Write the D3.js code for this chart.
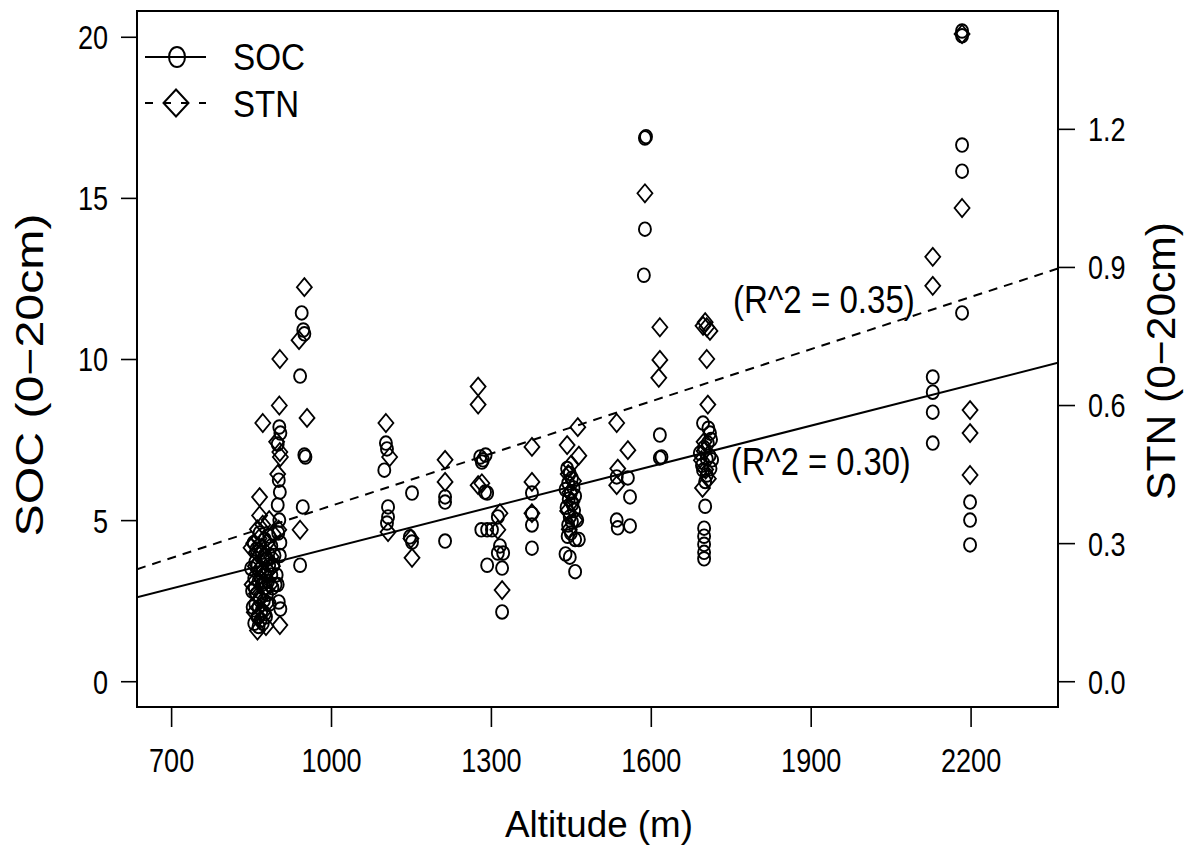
<!DOCTYPE html>
<html><head><meta charset="utf-8">
<script src="https://cdn.jsdelivr.net/npm/d3@7"></script>
<style>
body{margin:0;background:#fff}
text{font-family:"Liberation Sans",Arial,sans-serif;fill:#000}
</style>
</head><body>
<svg id="chart" width="1191" height="855"></svg>
<script>
// ---------- data ----------
const xTicks = [700, 1000, 1300, 1600, 1900, 2200];
const socTicks = [0, 5, 10, 15, 20];
const stnTicks = [0.0, 0.3, 0.6, 0.9, 1.2];
const seriesNames = ["SOC", "STN"];
const xLimits = [700, 2300];
const socLimits = [0, 20];
const stnLimits = [0, 1.4];
// linear fits: [intercept, slope]
const fitSOC = [-0.07, 0.00421];
const fitSTN = [0.003, 0.000378];
const r2Text = ["(R^2 = 0.30)", "(R^2 = 0.35)"];
// annotation anchors in data units: [altitude, value]
const r2SOCAnchor = [1750, 6.40];
const r2STNAnchor = [1754, 0.80];

// SOC points: [altitude (m), SOC]
const socPoints = [
  // ~850-895 m
  [855,4.3],[860,4.1],[865,4.2],[870,4.0],[875,3.9],[880,3.8],[858,3.7],[862,3.6],[868,3.5],[872,3.4],
  [878,3.3],[884,3.6],[856,3.2],[864,3.1],[870,3.0],[876,2.9],[882,3.1],[888,3.3],[852,2.8],[860,2.7],
  [866,2.6],[874,2.5],[880,2.7],[858,2.4],[864,2.3],[870,2.2],[876,2.1],[862,2.0],[868,1.9],[856,1.8],
  [864,1.7],[872,1.8],[878,2.0],[885,2.4],[890,2.9],[892,3.6],[888,4.2],[850,3.5],[853,2.3],[857,2.9],
  [884,4.5],[866,4.6],[876,4.4],[894,3.9],[896,3.0],
  // ~900 m
  [903,7.89],[905,7.70],[900,7.36],[902,6.24],[904,5.87],[900,5.47],[903,5.0],[901,4.6],[905,4.3],
  [898,3.3],[902,2.46],[905,2.24],[900,3.0],[904,3.9],
  // ~945 m
  [945,11.43],[948,10.90],[950,10.78],[942,9.47],[950,7.02],[952,6.96],[947,5.41],[942,3.60],
  // ~1100 m
  [1103,7.39],[1105,7.21],[1100,6.55],[1107,5.41],[1107,5.10],[1105,4.91],
  // ~1150 m
  [1152,5.84],[1148,4.48],[1152,4.32],
  // ~1214 m
  [1214,5.72],[1214,5.56],[1214,4.35],
  // ~1280-1320 m
  [1280,6.96],[1285,6.87],[1290,7.02],[1283,6.80],[1289,5.87],[1293,5.84],[1282,4.70],[1293,4.70],
  [1302,4.70],[1313,5.10],[1313,3.98],[1323,3.98],[1293,3.60],[1321,3.51],[1321,2.15],[1317,4.2],
  // ~1377 m
  [1377,5.84],[1377,4.85],[1377,4.13],[1377,5.2],
  // ~1440-1465 m
  [1443,6.6],[1448,6.45],[1452,6.3],[1445,6.15],[1455,6.0],[1440,5.95],[1450,5.85],[1458,5.75],
  [1446,5.65],[1453,5.5],[1442,5.4],[1456,5.3],[1448,5.1],[1452,4.95],[1445,4.85],[1450,4.6],
  [1458,4.4],[1444,4.5],[1448,3.85],[1440,3.95],[1465,4.4],[1458,3.4],[1462,5.0],
  // ~1536-1561 m
  [1536,6.34],[1557,6.31],[1561,5.72],[1536,5.0],[1538,4.76],[1561,4.82],
  // ~1589 m
  [1589,16.86],[1591,16.9],[1589,14.03],[1587,12.60],
  // ~1617 m
  [1617,7.64],[1617,6.93],[1620,6.96],
  // ~1692-1715 m
  [1698,8.01],[1711,7.70],[1707,7.39],[1692,7.08],[1715,6.87],[1698,6.55],[1702,6.20],[1708,7.85],
  [1713,7.5],[1700,7.25],[1705,6.9],[1696,6.7],[1710,7.0],[1702,5.43],[1700,4.75],[1700,4.5],
  [1700,4.25],[1700,4.0],[1700,3.8],[1705,6.4],[1712,6.6],
  // ~2129 m
  [2129,9.44],[2129,8.97],[2129,8.35],[2129,7.39],
  // ~2184 m
  [2184,20.18],[2184,20.03],[2184,16.64],[2184,15.83],[2184,11.43],
  // ~2199 m
  [2199,5.56],[2199,5.0],[2199,4.23]
];

// STN points: [altitude (m), STN]
const stnPoints = [
  // ~850-895 m
  [855,0.30],[860,0.28],[865,0.31],[870,0.29],[875,0.27],[880,0.30],[858,0.25],[864,0.24],[870,0.22],
  [876,0.26],[882,0.24],[852,0.21],[860,0.19],[868,0.18],[874,0.20],[880,0.17],[886,0.21],[856,0.15],
  [864,0.14],[872,0.15],[888,0.27],[892,0.32],[862,0.33],[872,0.34],[850,0.29],[884,0.35],[866,0.36],
  [890,0.25],[878,0.12],[862,0.11],
  // ~900 m
  [904,0.700],[903,0.599],[872,0.561],[904,0.498],[905,0.487],[866,0.400],[904,0.122],[902,0.329],
  [900,0.45],[898,0.52],
  // ~945 m
  [950,0.856],[940,0.741],[955,0.572],[942,0.329],
  // ~1100 m
  [1103,0.561],[1110,0.487],[1107,0.324],
  // ~1150 m
  [1150,0.310],[1152,0.268],
  // ~1214 m
  [1214,0.481],[1214,0.433],
  // ~1280-1320 m
  [1276,0.640],[1276,0.601],[1276,0.426],[1317,0.365],[1313,0.329],[1321,0.198],[1283,0.43],
  // ~1377 m
  [1377,0.509],[1377,0.433],[1377,0.365],
  // ~1440-1465 m
  [1463,0.552],[1443,0.513],[1465,0.490],[1450,0.470],[1445,0.450],[1455,0.435],[1448,0.410],
  [1452,0.390],[1444,0.370],[1458,0.350],[1447,0.330],
  // ~1536-1561 m
  [1536,0.561],[1557,0.502],[1538,0.462],[1536,0.426],
  // ~1589 m
  [1589,1.060],
  // ~1617 m
  [1617,0.769],[1617,0.698],[1615,0.659],
  // ~1692-1715 m
  [1702,0.780],[1705,0.769],[1711,0.761],[1698,0.772],[1705,0.700],[1707,0.601],[1700,0.52],
  [1695,0.48],[1703,0.46],[1708,0.44],[1697,0.42],[1700,0.50],
  // ~2129 m
  [2129,0.922],[2129,0.859],
  // ~2184 m
  [2184,1.406],[2184,1.028],
  // ~2199 m
  [2199,0.589],[2199,0.539],[2199,0.448]
];

// ---------- layout ----------
const svg = d3.select("#chart");
const L = 137, R = 1058, T = 11, B = 707;
const ext = (lim) => { const d = (lim[1]-lim[0])*0.04; return [lim[0]-d, lim[1]+d]; };
const x = d3.scaleLinear().domain(ext(xLimits)).range([L, R]);
const ySOC = d3.scaleLinear().domain(ext(socLimits)).range([B, T]);
const ySTN = d3.scaleLinear().domain(ext(stnLimits)).range([B, T]);

function squeezeTo(sel, width){
  sel.each(function(){ this.setAttribute("textLength", width); this.setAttribute("lengthAdjust","spacingAndGlyphs"); });
}
function squeezeBy(sel, f){
  sel.each(function(){ const w = this.getComputedTextLength(); this.setAttribute("textLength", w*f); this.setAttribute("lengthAdjust","spacingAndGlyphs"); });
}

svg.append("defs").append("clipPath").attr("id","plotclip")
  .append("rect").attr("x",L).attr("y",T).attr("width",R-L).attr("height",B-T);

// axes
const tickFont = 33, tickSqueeze = 0.82;
const gx = svg.append("g").attr("transform",`translate(0,${B})`)
  .call(d3.axisBottom(x).tickValues(xTicks).tickSize(20).tickFormat(d3.format("d")));
gx.select(".domain").remove();
gx.selectAll(".tick line").attr("stroke","#000").attr("stroke-width",1.6);
gx.selectAll("text").attr("y",65).attr("dy",0).attr("font-size",tickFont).attr("font-family",null);
squeezeBy(gx.selectAll("text"), tickSqueeze);

const gl = svg.append("g").attr("transform",`translate(${L},0)`)
  .call(d3.axisLeft(ySOC).tickValues(socTicks).tickSize(16).tickPadding(13).tickFormat(d3.format("d")));
gl.select(".domain").remove();
gl.selectAll(".tick line").attr("stroke","#000").attr("stroke-width",1.6);
gl.selectAll("text").attr("dy","0.36em").attr("font-size",tickFont).attr("font-family",null);
squeezeBy(gl.selectAll("text"), tickSqueeze);

const gr = svg.append("g").attr("transform",`translate(${R},0)`)
  .call(d3.axisRight(ySTN).tickValues(stnTicks).tickSize(17).tickPadding(13).tickFormat(d3.format(".1f")));
gr.select(".domain").remove();
gr.selectAll(".tick line").attr("stroke","#000").attr("stroke-width",1.6);
gr.selectAll("text").attr("dy","0.36em").attr("font-size",tickFont).attr("font-family",null);
squeezeBy(gr.selectAll("text"), tickSqueeze);

// box
svg.append("rect").attr("x",L).attr("y",T).attr("width",R-L).attr("height",B-T)
  .attr("fill","none").attr("stroke","#000").attr("stroke-width",2);

// regression lines
const plot = svg.append("g").attr("clip-path","url(#plotclip)");
const xd = x.domain();
plot.append("line")
  .attr("x1",x(xd[0])).attr("y1",ySOC(fitSOC[0]+fitSOC[1]*xd[0]))
  .attr("x2",x(xd[1])).attr("y2",ySOC(fitSOC[0]+fitSOC[1]*xd[1]))
  .attr("stroke","#000").attr("stroke-width",2);
plot.append("line")
  .attr("x1",x(xd[0])).attr("y1",ySTN(fitSTN[0]+fitSTN[1]*xd[0]))
  .attr("x2",x(xd[1])).attr("y2",ySTN(fitSTN[0]+fitSTN[1]*xd[1]))
  .attr("stroke","#000").attr("stroke-width",2).attr("stroke-dasharray","9,7");

// markers
const diamond = (hw, hh) => `M0,${-hh}L${hw},0L0,${hh}L${-hw},0Z`;
plot.selectAll("path.stn").data(stnPoints).join("path").attr("class","stn")
  .attr("transform",d=>`translate(${x(d[0])},${ySTN(d[1])})`)
  .attr("d",diamond(7.5,9)).attr("fill","none").attr("stroke","#000").attr("stroke-width",1.8);
plot.selectAll("ellipse.soc").data(socPoints).join("ellipse").attr("class","soc")
  .attr("cx",d=>x(d[0])).attr("cy",d=>ySOC(d[1])).attr("rx",6).attr("ry",6.8)
  .attr("fill","none").attr("stroke","#000").attr("stroke-width",1.9);

// R^2 annotations
const t1 = svg.append("text").attr("x",x(r2STNAnchor[0])).attr("y",ySTN(r2STNAnchor[1]))
  .attr("font-size",39).text(r2Text[1]);
squeezeTo(t1,182);
const t2 = svg.append("text").attr("x",x(r2SOCAnchor[0])).attr("y",ySOC(r2SOCAnchor[1]))
  .attr("font-size",39).text(r2Text[0]);
squeezeTo(t2,180);

// legend
const lg = svg.append("g");
lg.append("line").attr("x1",145).attr("x2",206).attr("y1",57).attr("y2",57).attr("stroke","#000").attr("stroke-width",2);
lg.append("ellipse").attr("cx",177).attr("cy",57).attr("rx",8).attr("ry",10).attr("fill","none").attr("stroke","#000").attr("stroke-width",2);
lg.append("line").attr("x1",145).attr("x2",206).attr("y1",103).attr("y2",103).attr("stroke","#000").attr("stroke-width",2).attr("stroke-dasharray","8,10");
lg.append("path").attr("transform","translate(176,103)").attr("d",diamond(12.5,13.5)).attr("fill","none").attr("stroke","#000").attr("stroke-width",2);
const lt1 = lg.append("text").attr("x",233).attr("y",70).attr("font-size",37.5).text(seriesNames[0]);
squeezeTo(lt1,72);
const lt2 = lg.append("text").attr("x",233).attr("y",117).attr("font-size",37.5).text(seriesNames[1]);
squeezeTo(lt2,66);

// axis titles
const xt = svg.append("text").attr("x",599).attr("y",837).attr("text-anchor","middle").attr("font-size",37.5).text("Altitude (m)");
squeezeTo(xt,188);
const ylt = svg.append("text").attr("transform","translate(43,375) rotate(-90)").attr("text-anchor","middle").attr("font-size",39).text("SOC (0\u221220cm)");
squeezeTo(ylt,323);
const yrt = svg.append("text").attr("transform","translate(1175,361) rotate(-90)").attr("text-anchor","middle").attr("font-size",41).text("STN (0\u221220cm)");
squeezeTo(yrt,278);
</script>
</body></html>
